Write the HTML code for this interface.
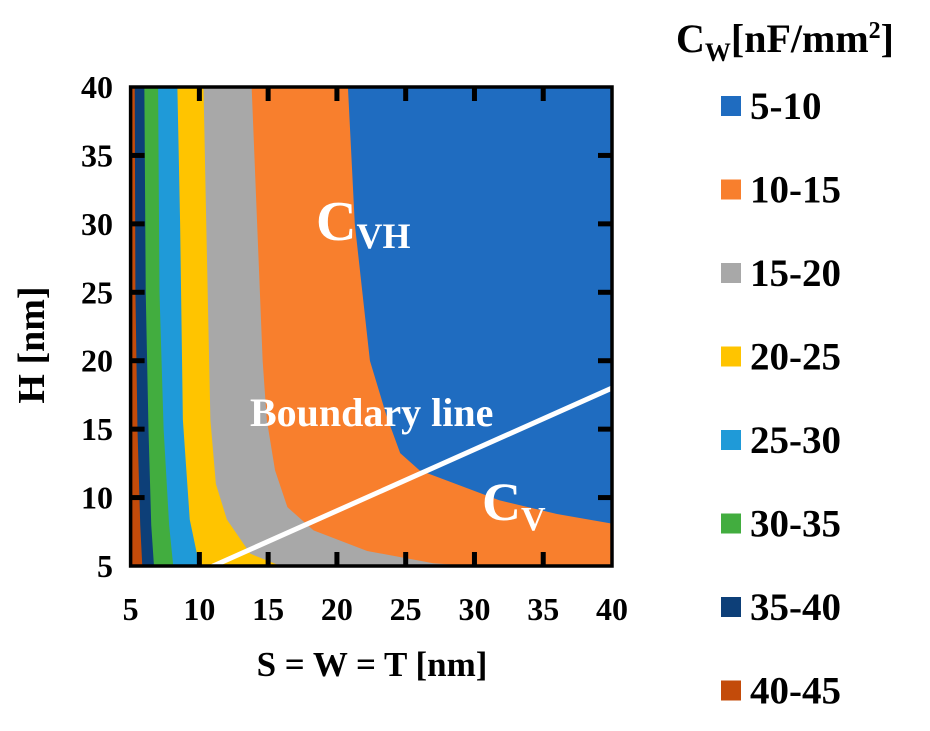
<!DOCTYPE html>
<html><head><meta charset="utf-8"><style>
body{margin:0;background:#fff;width:930px;height:726px;overflow:hidden}
svg text{font-family:"Liberation Serif",serif;font-weight:bold}
</style></head><body>
<svg id="chart" width="930" height="726" viewBox="0 0 930 726" xmlns="http://www.w3.org/2000/svg">
<g id="regions"></g>
<g id="overlay"></g>
</svg>
<script>
const xTicks=[5,10,15,20,25,30,35,40];
const yTicks=[5,10,15,20,25,30,35,40];
const levels=['5-10','10-15','15-20','20-25','25-30','30-35','35-40','40-45'];
const colors=['#1f6cc0','#f87f2d','#a8a8a8','#ffc400','#1f9ad8','#42ad3f','#0d3f78','#c34b0a'];
// boundary curves (S,H) of each region's right edge (regions 10-15 .. 40-45)
const b10=[[20.8,40],[21.3,30],[22.4,20],[23.6,16],[24.6,13.25],[26.0,12.0],[31.8,9.8],[36,8.8],[40,8.1]];
const b15=[[13.8,40],[14.2,30],[14.6,20],[14.9,15.7],[15.5,12],[16.4,9.3],[18.3,7.6],[22.2,6.1],[27,5.2],[30,5]];
const b20=[[10.3,40],[10.5,30],[10.8,15.7],[11.2,11],[12,8.4],[13.7,5.9],[15.9,5]];
const b25=[[8.4,40],[8.6,30],[8.8,15.7],[9.3,8.4],[9.8,6],[10.2,5]];
const b30=[[7.0,40],[7.1,25],[7.4,15],[7.8,8],[8.1,5]];
const b35=[[6.0,40],[6.1,25],[6.3,15],[6.5,8],[6.7,5]];
const b40=[[5.3,40],[5.35,25],[5.5,15],[5.7,8],[5.85,5]];
const boundaries=[b10,b15,b20,b25,b30,b35,b40];
const boundaryLine=[[11,5],[40,18]];
const X0=130.6,X1=612,Y0=566,Y1=87;
const sx=v=>X0+(v-5)/35*(X1-X0);
const sy=v=>Y0-(v-5)/35*(Y0-Y1);
const NS='http://www.w3.org/2000/svg';
function mk(tag,attrs,parent){const e=document.createElementNS(NS,tag);for(const k in attrs)e.setAttribute(k,attrs[k]);parent.appendChild(e);return e;}
const R=document.getElementById('regions'),O=document.getElementById('overlay'),S=document.getElementById('chart');
let bg=mk('rect',{x:X0,y:Y1,width:X1-X0,height:Y0-Y1,fill:colors[0]},R);


boundaries.forEach((b,i)=>{
  let pts=b.map(p=>sx(p[0])+','+sy(p[1]));
  const last=b[b.length-1];
  if(last[1]>5) pts.push(sx(last[0])+','+sy(5));
  pts.push(sx(5)+','+sy(5));pts.push(sx(5)+','+sy(40));
  const p=mk('polygon',{points:pts.join(' '),fill:colors[i+1]},R);
  
  
});
let bl=mk('line',{x1:sx(boundaryLine[0][0]),y1:sy(boundaryLine[0][1]),x2:sx(boundaryLine[1][0]),y2:sy(boundaryLine[1][1]),stroke:'#fff','stroke-width':5,'stroke-linecap':'round'},O);


let fr=mk('rect',{x:X0,y:Y1,width:X1-X0,height:Y0-Y1,fill:'none',stroke:'#000','stroke-width':3.5},O);


xTicks.forEach(v=>{
  if(v>5&&v<40){mk('line',{x1:sx(v),x2:sx(v),y1:Y0,y2:Y0-14,stroke:'#000','stroke-width':5},O);mk('line',{x1:sx(v),x2:sx(v),y1:Y1,y2:Y1+14,stroke:'#000','stroke-width':5},O);}
  const t=mk('text',{x:sx(v),y:620,'font-size':32,'text-anchor':'middle'},S);t.textContent=v;
  
  
});
yTicks.forEach(v=>{
  if(v>5&&v<40){mk('line',{x1:X0,x2:X0+14,y1:sy(v),y2:sy(v),stroke:'#000','stroke-width':5},O);mk('line',{x1:X1,x2:X1-14,y1:sy(v),y2:sy(v),stroke:'#000','stroke-width':5},O);}
  const t=mk('text',{x:113,y:sy(v)+11,'font-size':32,'text-anchor':'end'},S);t.textContent=v;
  
  
});
levels.forEach((l,i)=>{
  const y=96+i*83.5;
  const r=mk('rect',{x:721,y:y,width:20,height:20,fill:colors[i]},S);
  
  
  const t=mk('text',{x:750,y:y+23,'font-size':39},S);t.textContent=l;
  
  
});
</script>
<svg width="930" height="726" style="position:absolute;left:0;top:0" xmlns="http://www.w3.org/2000/svg">
<text x="676" y="52" font-size="40">C<tspan font-size="26" dy="9">W</tspan><tspan dy="-9">[nF/mm</tspan><tspan font-size="24" dy="-14">2</tspan><tspan dy="14">]</tspan></text>
<text x="316" y="240" font-size="56" fill="#fff">C<tspan font-size="36" dy="8">VH</tspan></text>
<text x="250" y="426" font-size="40" fill="#fff">Boundary line</text>
<text x="482" y="520" font-size="54" fill="#fff">C<tspan font-size="34" dy="10">V</tspan></text>
<text x="372" y="676" font-size="35" text-anchor="middle">S = W = T [nm]</text>
<text transform="translate(44,345) rotate(-90)" font-size="38" text-anchor="middle">H [nm]</text>
</svg>
</body></html>
